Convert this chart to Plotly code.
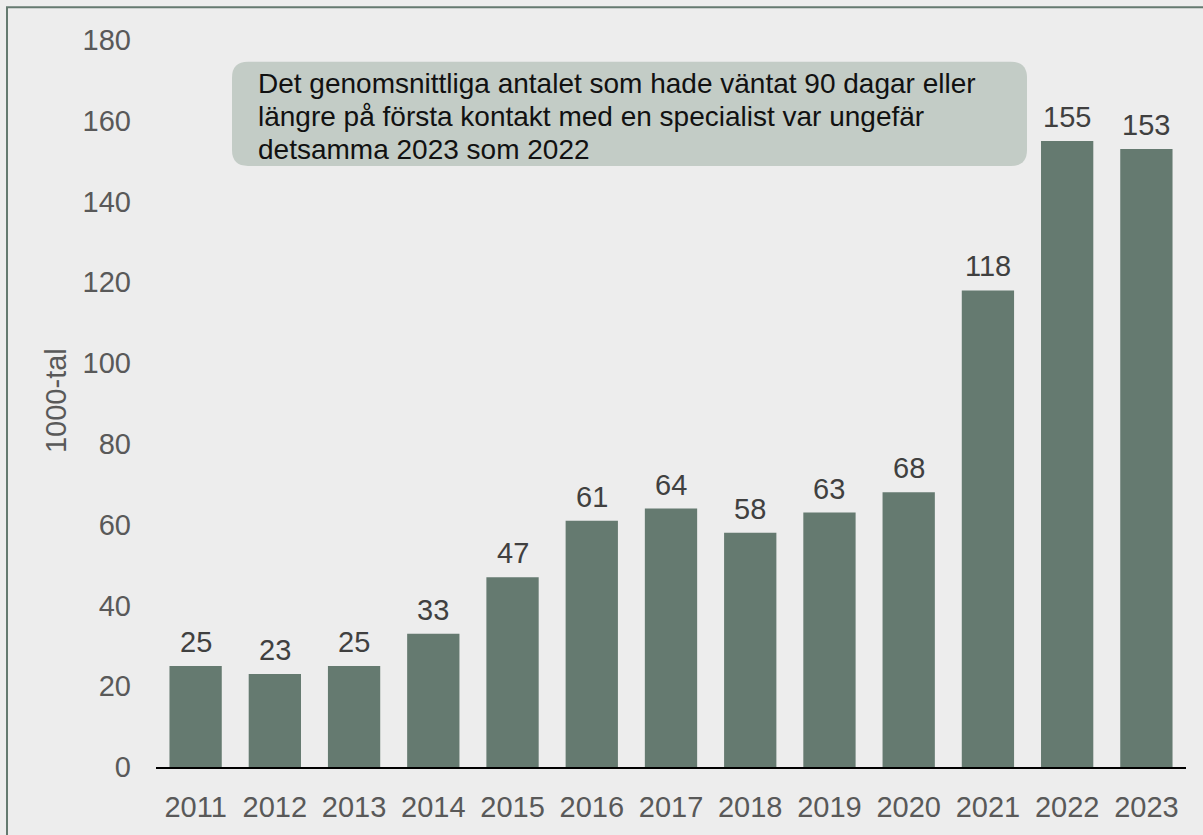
import plotly.graph_objects as go

years = ["2011", "2012", "2013", "2014", "2015", "2016", "2017", "2018", "2019", "2020", "2021", "2022", "2023"]
values = [25, 23, 25, 33, 47, 61, 64, 58, 63, 68, 118, 155, 153]
y_ticks = [0, 20, 40, 60, 80, 100, 120, 140, 160, 180]
y_title = "1000-tal"
note_lines = [
    "Det genomsnittliga antalet som hade väntat 90 dagar eller",
    "längre på första kontakt med en specialist var ungefär",
    "detsamma 2023 som 2022",
]

W, H = 1203, 835
ML, MR, MT, MB = 156, 17, 40, 62
PW, PH = W - ML - MR, H - MT - MB

BAR = "#657A70"
BG = "#EDEDED"
FONT = "Liberation Sans, Arial, sans-serif"

fig = go.Figure()
fig.add_trace(go.Bar(
    x=years, y=values, marker=dict(color=BAR, line=dict(width=0)),
    hoverinfo="skip"))

# data labels (category axis: annotations use category index)
for i, v in enumerate(values):
    fig.add_annotation(x=i, y=v, xref="x", yref="y", text=str(v), showarrow=False,
                       xanchor="center", yanchor="bottom", yshift=6,
                       font=dict(family=FONT, size=29, color="#404040"))

def px_x(p):
    return (p - ML) / PW

def px_y(p):
    return (H - MB - p) / PH

# rounded note box
x0, x1, y0, y1 = px_x(232), px_x(1027), px_y(167), px_y(62)
rx, ry = 16 / PW, 16 / PH
path = (f"M {x0+rx},{y0} L {x1-rx},{y0} Q {x1},{y0} {x1},{y0+ry} "
        f"L {x1},{y1-ry} Q {x1},{y1} {x1-rx},{y1} L {x0+rx},{y1} "
        f"Q {x0},{y1} {x0},{y1-ry} L {x0},{y0+ry} Q {x0},{y0} {x0+rx},{y0} Z")
fig.add_shape(type="path", path=path, xref="paper", yref="paper",
              fillcolor="#C3CCC6", line=dict(width=0), layer="below")

for i, line in enumerate(note_lines):
    fig.add_annotation(x=px_x(256), y=px_y(84 + 33 * i), xref="paper", yref="paper",
                       text=line, showarrow=False, align="left",
                       xanchor="left", yanchor="middle",
                       font=dict(family=FONT, size=28, color="#111111"))

# y axis title
fig.add_annotation(x=px_x(56), y=px_y(404), xref="paper", yref="paper",
                   text=y_title, showarrow=False, textangle=-90,
                   xanchor="center", yanchor="middle",
                   font=dict(family=FONT, size=29, color="#595959"))

# outer border
fig.add_shape(type="rect", xref="paper", yref="paper",
              x0=px_x(7), x1=px_x(1210), y0=px_y(845), y1=px_y(7),
              line=dict(color=BAR, width=2), fillcolor="rgba(0,0,0,0)",
              layer="below")

fig.update_layout(
    width=W, height=H,
    margin=dict(l=ML, r=MR, t=MT, b=MB),
    paper_bgcolor=BG, plot_bgcolor=BG,
    showlegend=False, bargap=0.34,
    font=dict(family=FONT, size=29, color="#595959"),
    xaxis=dict(type="category", showline=True, linecolor="#000000", linewidth=2,
               ticks="", showgrid=False, ticklabelstandoff=13,
               tickfont=dict(size=29, color="#595959")),
    yaxis=dict(range=[0, 180], tickvals=y_ticks, showgrid=False,
               zeroline=False, showline=False, ticks="",
               ticklabelstandoff=24,
               tickfont=dict(size=29, color="#595959")),
)

fig.write_html("out.html", config={"displayModeBar": False},
               post_script="document.body.style.margin='0';document.body.style.background='#EDEDED';")
